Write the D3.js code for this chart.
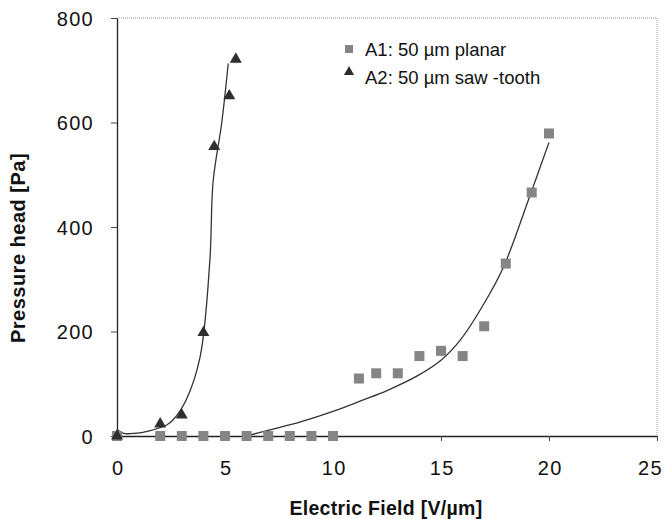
<!DOCTYPE html>
<html>
<head>
<meta charset="utf-8">
<script src="https://cdn.jsdelivr.net/npm/d3@7"></script>
<style>
  body { margin: 0; background: #fff; }
  svg { font-family: "Liberation Sans", Arial, sans-serif; }
</style>
</head>
<body>
<svg id="chart" width="669" height="519"></svg>
<script>
// A1: 50 um planar (squares)
const a1X = [0, 2, 3, 4, 5, 6, 7, 8, 9, 10, 11.2, 12, 13, 14, 15, 16, 17, 18, 19.2, 20];
const a1Y = [0, 0, 0, 0, 0, 0, 0, 0, 0, 0, 110, 120, 120, 153, 163, 153, 210, 330, 466, 579];
// A2: 50 um saw-tooth (triangles)
const a2X = [0, 2, 3, 4, 4.5, 5.2, 5.5];
const a2Y = [0, 23, 40, 198, 554, 651, 721];

// trend lines
const fit1X = [6.0, 6.9, 8.5, 10.0, 11.4, 12.5, 13.9, 15.0, 15.9, 17.0, 17.9, 19.1, 20.0];
const fit1Y = [0, 10, 27, 47, 69, 87, 115, 145, 184, 254, 324, 458, 562];
const fit2X = [0.05, 0.3, 0.8, 1.5, 2.3, 2.6, 3.2, 3.85, 4.3, 4.45, 4.85, 5.15];
const fit2Y = [11, 5, 5, 10, 21, 31, 69, 152, 337, 487, 600, 713];

const xTicks = [0, 5, 10, 15, 20, 25];
const yTicks = [0, 200, 400, 600, 800];

const svg = d3.select("#chart");
const plotL = 117, plotR = 657, plotT = 18, plotB = 436;

const x = d3.scaleLinear().domain([0, 25]).range([plotL, plotR]);
const y = d3.scaleLinear().domain([0, 800]).range([plotB, plotT]);

// top and right frame (light dotted)
svg.append("path")
  .attr("d", `M${plotL},${plotT}H${plotR}V${plotB}`)
  .attr("fill", "none")
  .attr("stroke", "#999")
  .attr("stroke-width", 1)
  .attr("stroke-dasharray", "1,1");

// axes
const xAxis = svg.append("g")
  .attr("transform", `translate(0,${plotB})`)
  .call(d3.axisBottom(x).tickValues(xTicks).tickSize(5).tickPadding(20).tickSizeOuter(0));
const yAxis = svg.append("g")
  .attr("transform", `translate(${plotL},0)`)
  .call(d3.axisLeft(y).tickValues(yTicks).tickSize(6).tickPadding(17).tickSizeOuter(0));

[xAxis, yAxis].forEach(function (g) {
  g.select(".domain").attr("stroke", "#222").attr("stroke-width", 1.3);
  g.selectAll(".tick line").attr("stroke", "#444");
  g.selectAll(".tick text")
    .attr("fill", "#111")
    .style("font-size", "20px")
    .style("letter-spacing", "1.3px")
    .style("font-family", "'Liberation Sans', Arial, sans-serif");
});
yAxis.selectAll(".tick text").attr("dy", "0.36em");
// last label sits inside the picture, as in the original
xAxis.selectAll(".tick text").attr("dx", d => d === 25 ? "-7px" : "0.65px");

// axis titles
svg.append("text")
  .attr("x", 386).attr("y", 515)
  .attr("text-anchor", "middle")
  .style("font-size", "19.5px").style("font-weight", "bold")
  .style("letter-spacing", "0.3px")
  .attr("fill", "#111")
  .text("Electric Field [V/µm]");
svg.append("text")
  .attr("transform", "translate(25,248) rotate(-90)")
  .attr("text-anchor", "middle")
  .style("font-size", "20px").style("font-weight", "bold")
  .style("letter-spacing", "0.5px")
  .attr("fill", "#111")
  .text("Pressure head [Pa]");

// trend lines
const line = d3.line()
  .x(d => x(d[0]))
  .y(d => y(d[1]))
  .curve(d3.curveCatmullRom.alpha(0.5));

svg.append("path")
  .datum(d3.zip(fit1X, fit1Y))
  .attr("d", line)
  .attr("fill", "none").attr("stroke", "#333").attr("stroke-width", 1.3);
svg.append("path")
  .datum(d3.zip(fit2X, fit2Y))
  .attr("d", line)
  .attr("fill", "none").attr("stroke", "#333").attr("stroke-width", 1.3);

// markers
const sq = 10;
svg.append("g").selectAll("rect")
  .data(d3.zip(a1X, a1Y))
  .join("rect")
  .attr("x", d => x(d[0]) - sq / 2)
  .attr("y", d => y(d[1]) - sq / 2)
  .attr("width", sq).attr("height", sq)
  .attr("fill", "#858585");

const tri = d3.symbol().type(d3.symbolTriangle).size(62);
svg.append("g").selectAll("path")
  .data(d3.zip(a2X, a2Y))
  .join("path")
  .attr("transform", d => `translate(${x(d[0])},${y(d[1])})`)
  .attr("d", tri)
  .attr("fill", "#2e2e2e");

// legend
const legend = svg.append("g");
legend.append("rect")
  .attr("x", 345).attr("y", 45).attr("width", 8).attr("height", 8)
  .attr("fill", "#858585");
legend.append("path")
  .attr("transform", "translate(349,72)")
  .attr("d", d3.symbol().type(d3.symbolTriangle).size(45))
  .attr("fill", "#2e2e2e");
legend.append("text")
  .attr("x", 365).attr("y", 56)
  .style("font-size", "18.5px").attr("fill", "#111")
  .text("A1: 50 µm planar");
legend.append("text")
  .attr("x", 365).attr("y", 84)
  .style("font-size", "18.5px").attr("fill", "#111")
  .text("A2: 50 µm saw -tooth");
</script>
</body>
</html>
